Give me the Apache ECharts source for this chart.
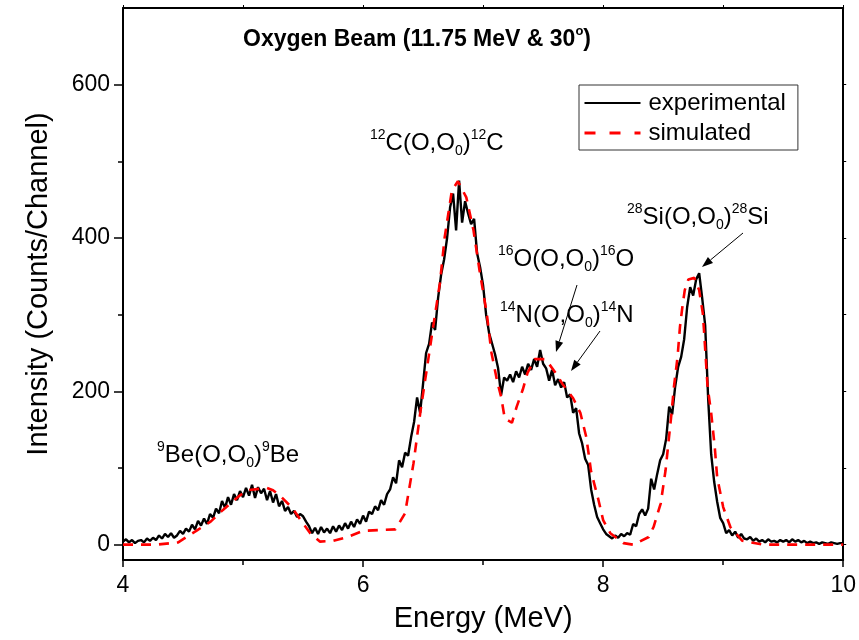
<!DOCTYPE html>
<html>
<head>
<meta charset="utf-8">
<script src="https://cdn.jsdelivr.net/npm/echarts@6/dist/echarts.min.js"></script>
<style>
  html, body { margin: 0; padding: 0; background: #fff; }
  #chart { width: 859px; height: 640px; }
</style>
</head>
<body>
<div id="chart"></div>
<script>
// Channel calibration of the spectrum (MeV)
const energyStart = 4.0;
const energyStep = 0.025;

// Measured counts per channel, 4.000 .. 10.000 MeV
const experimentalCounts = [
  4, 7, 3, 6, 2, 5, 6, 3, 8, 5,
  9, 6, 12, 8, 14, 10, 15, 9, 12, 18,
  14, 21, 17, 26, 20, 31, 25, 34, 27, 40,
  35, 47, 41, 57, 48, 62, 52, 66, 58, 70,
  62, 74, 64, 78, 61, 75, 67, 73, 58, 70,
  55, 66, 50, 57, 44, 49, 40, 44, 36, 40,
  37, 30, 24, 15, 22, 14, 23, 16, 21, 15,
  24, 17, 25, 19, 28, 21, 30, 23, 33, 27,
  38, 30, 43, 40, 50, 45, 58, 52, 66, 72,
  88, 80, 110, 101, 120, 116, 140, 160, 192, 172,
  210, 250, 262, 290, 280, 322, 352, 372, 400, 440,
  458, 410, 475, 420, 448, 432, 418, 425, 380, 362,
  338, 300, 276, 262, 248, 230, 195, 218, 214, 222,
  212, 226, 218, 232, 222, 236, 228, 242, 232, 254,
  236, 230, 214, 228, 208, 216, 205, 212, 192, 196,
  172, 178, 145, 132, 112, 104, 72, 52, 36, 28,
  20, 14, 11, 8, 12, 9, 14, 11, 15, 13,
  27, 24, 40, 46, 38, 47, 86, 72, 92, 110,
  118, 138, 180, 170, 206, 232, 245, 268, 310, 336,
  325, 346, 354, 322, 286, 190, 118, 82, 56, 35,
  28, 15, 19, 12, 17, 9, 14, 8, 7, 10,
  5, 8, 4, 6, 3, 7, 4, 5, 3, 6,
  4, 6, 3, 7, 4, 6, 3, 5, 2, 4,
  2, 3, 1, 3, 2, 1, 3, 2, 1, 2,
  2
];

// Simulated spectrum (energy in MeV, counts)
const simEnergy = [
  4.00, 4.28, 4.46, 4.62, 4.73, 4.83, 4.98, 5.04, 5.20, 5.25,
  5.32, 5.41, 5.48, 5.56, 5.64, 5.75, 5.87, 6.00, 6.27, 6.35,
  6.42, 6.48, 6.53, 6.58, 6.64, 6.68, 6.74, 6.79, 6.86, 6.92,
  6.97, 7.03, 7.07, 7.12, 7.15, 7.18, 7.24, 7.28, 7.33, 7.37,
  7.43, 7.52, 7.60, 7.66, 7.75, 7.81, 7.86, 7.90, 7.96, 8.00,
  8.06, 8.17, 8.25, 8.38, 8.42, 8.48, 8.52, 8.54, 8.57, 8.59,
  8.62, 8.64, 8.66, 8.68, 8.71, 8.76, 8.80, 8.83, 8.84, 8.87,
  8.90, 8.93, 8.95, 9.00, 9.06, 9.16, 9.34, 10.00
];
const simCounts = [
  0, 0, 3, 19, 30, 45, 65, 71, 74, 71,
  62, 48, 32, 15, 4, 5, 10, 18, 20, 41,
  106, 176, 228, 280, 341, 401, 462, 474, 453, 410,
  358, 302, 250, 211, 193, 165, 159, 180, 202, 224,
  242, 242, 225, 210, 191, 172, 140, 95, 59, 32,
  15, 2, 0, 10, 23, 54, 97, 127, 172, 206,
  245, 284, 310, 332, 346, 348, 332, 302, 280, 206,
  172, 127, 88, 49, 23, 5, 0, 0
];

// Axis ticks
const xMin = 4, xMax = 10, xInterval = 2;
const yMin = -20, yMax = 700;
const yMajorTicks = [0, 200, 400, 600];
const yMinorTicks = [100, 300, 500];
const yRightTicks = [0, 100, 200, 300, 400, 500, 600];

const seriesNames = ['experimental', 'simulated'];

const experimentalData = experimentalCounts.map((v, i) => [energyStart + i * energyStep, v]);
const simulatedData = simCounts.map((v, i) => [simEnergy[i], v]);

const FONT = '"Liberation Sans", Arial, sans-serif';

const chart = echarts.init(document.getElementById('chart'), null, { renderer: 'canvas' });

// Reaction label: rich text with superscript mass numbers and subscript 0
const supStyle = { fontSize: 14, fontFamily: FONT, fill: '#000', verticalAlign: 'top', lineHeight: 10 };
const subStyle = { fontSize: 14, fontFamily: FONT, fill: '#000', verticalAlign: 'bottom', lineHeight: 4 };
const mainStyle = { fontSize: 24, fontFamily: FONT, fill: '#000', lineHeight: 30 };

function reactionLabel(mass, sym, x, y) {
  return {
    type: 'text',
    x: x, y: y,
    silent: true,
    style: {
      text: '{s|' + mass + '}{m|' + sym + '(O,O}{b|0}{m|)}{s|' + mass + '}{m|' + sym + '}',
      verticalAlign: 'middle',
      rich: { s: supStyle, b: subStyle, m: mainStyle }
    }
  };
}

function arrow(x1, y1, x2, y2) {
  const dx = x2 - x1, dy = y2 - y1;
  const len = Math.sqrt(dx * dx + dy * dy);
  const ux = dx / len, uy = dy / len;
  const headLen = 11, headW = 4;
  const bx = x2 - ux * headLen, by = y2 - uy * headLen;
  return {
    type: 'group',
    silent: true,
    children: [
      { type: 'line', shape: { x1: x1, y1: y1, x2: bx, y2: by }, style: { stroke: '#000', lineWidth: 1 } },
      { type: 'polygon', shape: { points: [[x2, y2], [bx - uy * headW, by + ux * headW], [bx + uy * headW, by - ux * headW]] }, style: { fill: '#000' } }
    ]
  };
}

const option = {
  animation: false,
  backgroundColor: '#fff',
  title: {
    text: '{t|Oxygen Beam (11.75 MeV & 30}{o|o}{t|)}',
    left: 243,
    top: 25,
    padding: 0,
    textStyle: {
      rich: {
        t: { fontSize: 23, fontWeight: 'bold', fontFamily: FONT, color: '#000', lineHeight: 30 },
        o: { fontSize: 13, fontWeight: 'bold', fontFamily: FONT, color: '#000', verticalAlign: 'top', lineHeight: 14 }
      }
    }
  },
  legend: {
    left: 579,
    top: 85,
    orient: 'vertical',
    data: [
      { name: seriesNames[0] },
      { name: seriesNames[1], lineStyle: { type: [11, 14], width: 3 } }
    ],
    itemWidth: 56,
    itemHeight: 14,
    itemGap: 2,
    padding: [4, 12, 3, 4],
    borderColor: '#333',
    borderWidth: 1,
    borderRadius: 0,
    backgroundColor: '#fff',
    itemStyle: { opacity: 0 },
    textStyle: { fontSize: 24, fontFamily: FONT, color: '#000', lineHeight: 28, padding: [0, 0, 0, 3] },
    selectedMode: false
  },
  grid: { left: 123, right: 15, top: 8, bottom: 80, containLabel: false },
  xAxis: [
    {
      type: 'value', min: xMin, max: xMax, interval: xInterval, position: 'bottom',
      axisLine: { show: true, onZero: false, lineStyle: { color: '#000', width: 2 } },
      axisTick: { show: true, inside: false, length: 7, lineStyle: { color: '#000', width: 1.5 } },
      minorTick: { show: true, splitNumber: 2, length: 5, lineStyle: { color: '#000', width: 1.5 } },
      axisLabel: { fontSize: 23, fontFamily: FONT, color: '#000', margin: 14 },
      splitLine: { show: false },
      name: 'Energy (MeV)', nameLocation: 'middle', nameGap: 44,
      nameTextStyle: { fontSize: 29, fontFamily: FONT, color: '#000' }
    },
    {
      type: 'value', min: xMin, max: xMax, interval: 1, position: 'top',
      axisLine: { show: true, onZero: false, lineStyle: { color: '#000', width: 2 } },
      axisTick: { show: true, inside: false, length: 3, lineStyle: { color: '#000', width: 1 } },
      axisLabel: { show: false },
      splitLine: { show: false }
    }
  ],
  yAxis: [
    {
      type: 'value', min: yMin, max: yMax, position: 'left',
      axisLine: { show: true, onZero: false, lineStyle: { color: '#000', width: 2 } },
      axisTick: { show: true, inside: false, length: 9, customValues: yMajorTicks, lineStyle: { color: '#000', width: 1.5 } },
      axisLabel: { fontSize: 23, fontFamily: FONT, color: '#000', margin: 13, customValues: yMajorTicks },
      splitLine: { show: false },
      name: 'Intensity (Counts/Channel)', nameLocation: 'middle', nameGap: 70,
      nameTextStyle: { fontSize: 29, fontFamily: FONT, color: '#000' }
    },
    {
      type: 'value', min: yMin, max: yMax, position: 'left',
      axisLine: { show: false },
      axisTick: { show: true, inside: false, length: 5, customValues: yMinorTicks, lineStyle: { color: '#000', width: 1.5 } },
      axisLabel: { show: false, customValues: yMinorTicks },
      splitLine: { show: false }
    },
    {
      type: 'value', min: yMin, max: yMax, position: 'right',
      axisLine: { show: true, onZero: false, lineStyle: { color: '#000', width: 2 } },
      axisTick: { show: true, inside: false, length: 3, customValues: yRightTicks, lineStyle: { color: '#000', width: 1 } },
      axisLabel: { show: false, customValues: yRightTicks },
      splitLine: { show: false }
    }
  ],
  series: [
    {
      name: seriesNames[0], type: 'line', xAxisIndex: 0, yAxisIndex: 0,
      data: experimentalData, showSymbol: false, symbol: 'none',
      lineStyle: { color: '#000', width: 2.4 }, itemStyle: { color: '#000' },
      z: 2
    },
    {
      name: seriesNames[1], type: 'line', xAxisIndex: 0, yAxisIndex: 0,
      data: simulatedData, showSymbol: false, symbol: 'none',
      lineStyle: { color: '#ff0000', width: 2.6, type: [10, 8] }, itemStyle: { color: '#ff0000' },
      z: 3
    }
  ],
  graphic: [
    reactionLabel('12', 'C', 370, 143),
    reactionLabel('16', 'O', 498, 259),
    reactionLabel('14', 'N', 500, 315),
    reactionLabel('28', 'Si', 627, 217),
    reactionLabel('9', 'Be', 157, 455),
    arrow(577, 285, 556, 352),
    arrow(600, 331, 571, 371),
    arrow(743, 233, 702, 267)
  ]
};

chart.setOption(option);
</script>
</body>
</html>
